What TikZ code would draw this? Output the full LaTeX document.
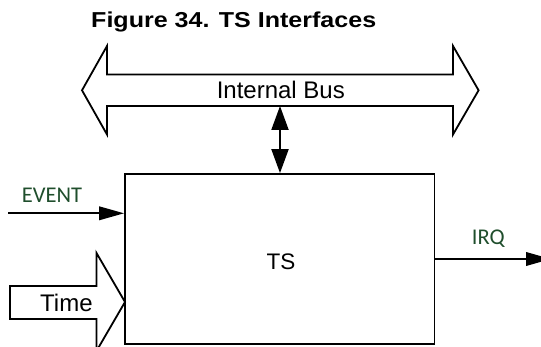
\documentclass[tikz,border=0pt]{standalone}
\usepackage{fontspec}
\setmainfont{Liberation Sans}
\newfontfamily\calfont{Carlito}
\newfontfamily\headfont[FakeStretch=1.16]{Liberation Sans}
\usetikzlibrary{arrows.meta}
\definecolor{sigGreen}{RGB}{31,78,44}
\begin{document}
\begin{tikzpicture}[x=1pt,y=-1pt,
  outline/.style={draw=black, line width=1.8pt, line join=miter},
  sig/.style={line width=2pt, -{Triangle[length=25pt,width=13.5pt]}},
  biarrow/.style={line width=2pt, {Triangle[length=24pt,width=17pt]}-{Triangle[length=24pt,width=17pt]}},
  armtext/.style={font=\fontsize{24}{28}\selectfont, inner sep=0pt},
  sigtext/.style={font=\calfont\fontsize{22.5}{26}\selectfont, text=sigGreen, inner sep=0pt}]
\useasboundingbox (0,0) rectangle (541,347);
\clip (0,0) rectangle (541,347);

% caption
\node[anchor=base west, font=\headfont\bfseries\fontsize{21.6}{26}\selectfont, inner sep=0pt]
  (title) at (91,27.6) {Figure 34. TS Interfaces};

% internal bus (wide double arrow)
\draw[outline] (82,90.3) -- (107,46) -- (107,74.5) -- (453,74.5) -- (453,46)
  -- (478.6,90.3) -- (453,134.5) -- (453,106) -- (107,106) -- (107,134.5) -- cycle;
\node[armtext, anchor=base] (buslabel) at (280.8,98.5) {Internal Bus};
\coordinate (busbase) at (280,106);

% TS block
\node[outline, minimum width=309.5pt, minimum height=170pt, inner sep=0pt] (ts) at (279.75,259) {};
\node[armtext, font=\fontsize{22.5}{26}\selectfont, anchor=base] (tslabel) at (281,270) {TS};

% bus access
\draw[biarrow] (busbase) -- (busbase |- ts.north);

% EVENT input
\coordinate (evstart) at (8,213.3);
\draw[sig] (evstart) -- (evstart -| ts.west);
\node[sigtext, anchor=base west] (evlabel) at (21.7,202.7) {EVENT};

% Time input (wide arrow)
\draw[outline] (10,286) -- (96.5,286) -- (96.5,253) -- (125,302) -- (96.5,351)
  -- (96.5,319) -- (10,319) -- cycle;
\node[armtext, anchor=base] (timelabel) at (66.4,311.5) {Time};

% IRQ output
\coordinate (irqend) at (551,259);
\draw[sig] (ts.east) -- (irqend);
\node[sigtext, anchor=base west] (irqlabel) at (471.7,245) {IRQ};
\end{tikzpicture}
\end{document}
